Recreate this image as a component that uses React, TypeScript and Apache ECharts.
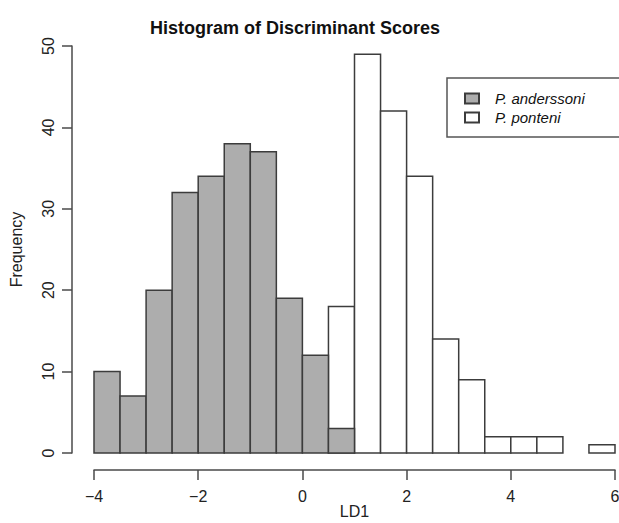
import React, { useEffect, useRef } from "react";
import * as echarts from "echarts";

const TITLE = "Histogram of Discriminant Scores";
const X_NAME = "LD1";
const Y_NAME = "Frequency";
const BIN_WIDTH = 0.5;
const anderssoniStarts = [-4, -3.5, -3, -2.5, -2, -1.5, -1, -0.5, 0, 0.5];
const anderssoniCounts = [10, 7, 20, 32, 34, 38, 37, 19, 12, 3];
const ponteniStarts = [0.5, 1, 1.5, 2, 2.5, 3, 3.5, 4, 4.5, 5, 5.5];
const ponteniCounts = [18, 49, 42, 34, 14, 9, 2, 2, 2, 0, 1];
const xTicks = [-4, -2, 0, 2, 4, 6];
const yTicks = [0, 10, 20, 30, 40, 50];

const GRAY = "#adadad";
const EDGE = "#3c3c3c";
const AXIS = "#4a4a4a";
const FONT = "'Liberation Sans', Arial, sans-serif";

function buildData(starts: number[], counts: number[]) {
  return starts
    .map((s, i) => [s, s + BIN_WIDTH, counts[i]])
    .filter((d) => d[2] > 0);
}

const renderBar = (params: any, api: any) => {
  const start = api.value(0);
  const end = api.value(1);
  const count = api.value(2);
  const p0 = api.coord([start, count]);
  const p1 = api.coord([end, 0]);
  return {
    type: "rect",
    shape: { x: p0[0], y: p0[1], width: p1[0] - p0[0], height: p1[1] - p0[1] },
    style: api.style(),
  };
};

export default function App() {
  const ref = useRef<HTMLDivElement>(null);
  useEffect(() => {
    if (!ref.current) return;
    const chart = echarts.init(ref.current, undefined, { renderer: "svg" });
    chart.setOption({
      animation: false,
      backgroundColor: "#ffffff",
      title: {
        text: TITLE,
        left: 145,
        top: 14,
        textStyle: { fontFamily: FONT, fontSize: 18, fontWeight: "bold", color: "#111" },
      },
      legend: {
        orient: "vertical",
        left: 447,
        top: 78,
        data: ["P. anderssoni", "P. ponteni"],
        icon: "rect",
        itemWidth: 14,
        itemHeight: 10,
        itemGap: 4,
        padding: [13, 40, 12, 17],
        borderColor: "#555",
        borderWidth: 1.5,
        borderRadius: 0,
        textStyle: {
          fontFamily: FONT,
          fontSize: 15,
          fontStyle: "italic",
          color: "#111",
          padding: [0, 0, 0, 11],
        },
      },
      grid: {
        left: 94,
        right: 4,
        top: 46,
        bottom: 70,
        containLabel: false,
        outerBoundsMode: "none",
      },
      xAxis: {
        type: "value",
        min: -4,
        max: 6,
        interval: 2,
        offset: 17,
        name: X_NAME,
        nameLocation: "middle",
        nameGap: 33,
        nameMoveOverlap: false,
        nameTextStyle: { fontFamily: FONT, fontSize: 16, color: "#222" },
        axisLine: { show: true, onZero: false, lineStyle: { color: AXIS, width: 1.5 } },
        axisTick: { show: true, length: 10, lineStyle: { color: AXIS, width: 1.5 } },
        axisLabel: {
          margin: 18,
          fontFamily: FONT,
          fontSize: 16,
          color: "#222",
          formatter: (v: number) => (xTicks.includes(v) ? String(v).replace("-", "\u2212") : ""),
        },
        splitLine: { show: false },
      },
      yAxis: {
        type: "value",
        min: 0,
        max: 50,
        interval: 10,
        offset: 22,
        name: Y_NAME,
        nameLocation: "middle",
        nameGap: 48,
        nameMoveOverlap: false,
        nameTextStyle: { fontFamily: FONT, fontSize: 16, color: "#222" },
        axisLine: { show: true, onZero: false, lineStyle: { color: AXIS, width: 1.5 } },
        axisTick: { show: true, length: 10, lineStyle: { color: AXIS, width: 1.5 } },
        axisLabel: {
          margin: 16,
          rotate: 90,
          fontFamily: FONT,
          fontSize: 16,
          color: "#222",
          formatter: (v: number) => (yTicks.includes(v) ? String(v) : ""),
        },
        splitLine: { show: false },
      },
      series: [
        {
          name: "P. ponteni",
          type: "custom",
          renderItem: renderBar,
          encode: { x: [0, 1], y: 2 },
          itemStyle: { color: "#ffffff", borderColor: EDGE, borderWidth: 1.5 },
          data: buildData(ponteniStarts, ponteniCounts),
          z: 2,
        },
        {
          name: "P. anderssoni",
          type: "custom",
          renderItem: renderBar,
          encode: { x: [0, 1], y: 2 },
          itemStyle: { color: GRAY, borderColor: EDGE, borderWidth: 1.5 },
          data: buildData(anderssoniStarts, anderssoniCounts),
          z: 3,
        },
      ],
    });
    return () => chart.dispose();
  }, []);
  return <div ref={ref} style={{ width: 619, height: 523, position: "absolute", left: 0, top: 0 }} />;
}
